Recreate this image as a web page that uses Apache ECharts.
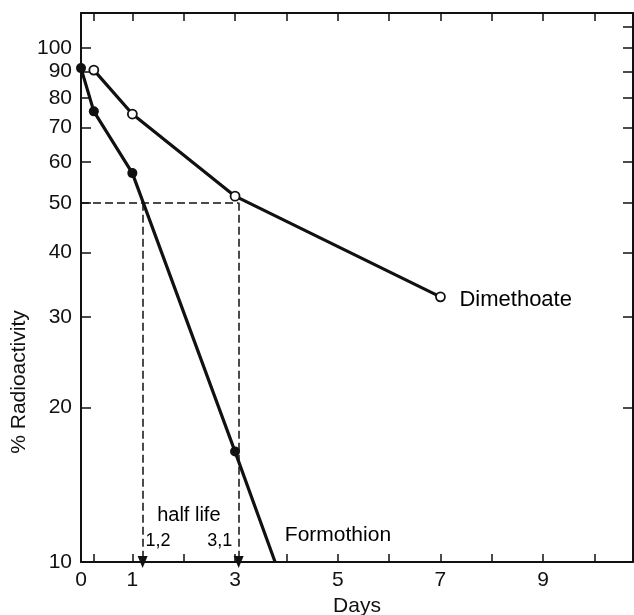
<!DOCTYPE html>
<html>
<head>
<meta charset="utf-8">
<script src="https://cdn.jsdelivr.net/npm/echarts@6/dist/echarts.min.js"></script>
<style>
  html, body { margin: 0; padding: 0; background: #fff; }
  #chart { width: 634px; height: 615px; }
</style>
</head>
<body>
<div id="chart"></div>
<script>
// values (days, % radioactivity)
const dimethoate = [[0.25, 90.6], [1, 74.4], [3, 51.5], [7, 32.8]];
const formothion = [[0, 91.4], [0.25, 75.3], [1, 57.1], [3, 16.4], [3.78, 10]];
const halfLives = [1.2, 3.07];
const xLabels = [0, 1, 3, 5, 7, 9];
const xTicks = [0.25, 1, 2, 3, 4, 5, 6, 7, 8, 9, 10];
const yLabels = [10, 20, 30, 40, 50, 60, 70, 80, 90, 100];
const yTicksRight = [10, 20, 30, 40, 50, 60, 70, 80, 90, 100, 110];
const notes = [
  { text: "half life", value: [2.1, 12.34], size: 20, align: "center" },
  { text: "1,2", value: [1.5, 10.98], size: 18, align: "center" },
  { text: "3,1", value: [2.7, 10.98], size: 18, align: "center" },
  { text: "Formothion", value: [3.97, 11.28], size: 21, align: "left" },
  { text: "Dimethoate", value: [7.37, 32.3], size: 22, align: "left" }
];

const font = "Liberation Sans, Arial, sans-serif";
const ink = "#111";

const chart = echarts.init(document.getElementById("chart"));

const axisLine = { onZero: false, lineStyle: { color: ink, width: 2 } };

chart.setOption({
  animation: false,
  textStyle: { fontFamily: font, color: ink },
  grid: { left: 81, right: 1, top: 13, bottom: 53, outerBoundsMode: "none" },
  xAxis: [
    {
      type: "value",
      min: 0,
      max: 10.75,
      position: "bottom",
      name: "Days",
      nameLocation: "middle",
      nameGap: 21,
      nameTextStyle: { fontSize: 21, fontFamily: font, color: ink },
      axisLine: axisLine,
      splitLine: { show: false },
      axisTick: { inside: true, length: 8, customValues: xTicks, lineStyle: { color: ink, width: 1.5 } },
      axisLabel: { customValues: xLabels, fontSize: 21, margin: 8, color: ink, fontFamily: font }
    },
    {
      type: "value",
      min: 0,
      max: 10.75,
      position: "top",
      axisLine: axisLine,
      splitLine: { show: false },
      axisTick: { inside: true, length: 8, customValues: xTicks, lineStyle: { color: ink, width: 1.5 } },
      axisLabel: { show: false }
    }
  ],
  yAxis: [
    {
      type: "log",
      logBase: 10,
      min: 10,
      max: 117,
      position: "left",
      axisLine: axisLine,
      splitLine: { show: false },
      minorTick: { show: false },
      axisTick: { inside: true, length: 10, customValues: yLabels, lineStyle: { color: ink, width: 1.5 } },
      axisLabel: { customValues: yLabels, fontSize: 21, margin: 9, color: ink, fontFamily: font }
    },
    {
      type: "log",
      logBase: 10,
      min: 10,
      max: 117,
      position: "right",
      axisLine: axisLine,
      splitLine: { show: false },
      axisTick: { inside: true, length: 10, customValues: yTicksRight, lineStyle: { color: ink, width: 1.5 } },
      axisLabel: { show: false }
    }
  ],
  graphic: [
    {
      type: "text",
      x: 19,
      y: 382,
      rotation: Math.PI / 2,
      style: {
        text: "% Radioactivity",
        font: "21px " + font,
        fill: ink,
        textAlign: "center",
        textVerticalAlign: "middle"
      }
    }
  ],
  series: [
    {
      name: "Dimethoate",
      type: "line",
      data: dimethoate,
      symbol: "circle",
      symbolSize: 9,
      lineStyle: { color: ink, width: 3.2 },
      itemStyle: { color: "#fff", borderColor: ink, borderWidth: 1.8 },
      z: 3
    },
    {
      name: "Formothion",
      type: "line",
      data: formothion.map((d, i) => i === formothion.length - 1
        ? { value: d, symbol: "none" }
        : d),
      symbol: "circle",
      symbolSize: 10,
      lineStyle: { color: ink, width: 3.2 },
      itemStyle: { color: ink },
      z: 4,
      markLine: {
        silent: true,
        animation: false,
        label: { show: false },
        lineStyle: { color: ink, width: 1.5, type: [8, 4] },
        data: [
          [
            { coord: [0, 50], symbol: "none" },
            { coord: [halfLives[1], 50], symbol: "none" }
          ],
          [
            { coord: [halfLives[0], 50], symbol: "none" },
            { coord: [halfLives[0], 10], symbol: "triangle", symbolSize: [10, 12] }
          ],
          [
            { coord: [halfLives[1], 50], symbol: "none" },
            { coord: [halfLives[1], 10], symbol: "triangle", symbolSize: [10, 12] }
          ]
        ]
      }
    },
    {
      name: "notes",
      type: "scatter",
      symbolSize: 0,
      silent: true,
      itemStyle: { color: ink },
      data: notes.map(n => ({
        value: n.value,
        label: {
          show: true,
          position: [0, 0],
          align: n.align,
          verticalAlign: "middle",
          formatter: n.text,
          fontSize: n.size,
          color: "#000",
          opacity: 1,
          fontFamily: font
        }
      })),
      z: 5
    }
  ]
});
</script>
</body>
</html>
